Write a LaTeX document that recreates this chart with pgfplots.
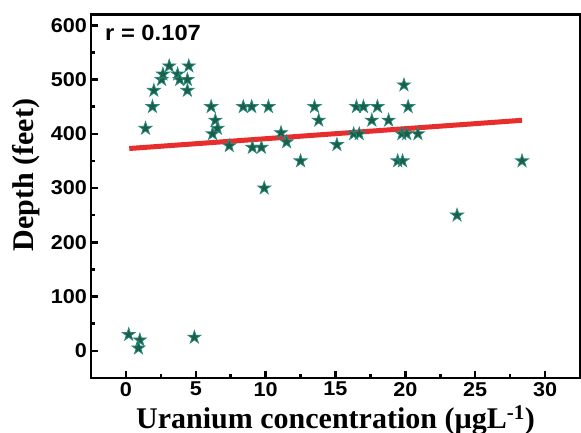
\documentclass[border=0pt]{standalone}
\usepackage{pgfplots}
\pgfplotsset{compat=1.18}
\usepackage{fontspec}
\setmainfont{Liberation Serif}
\newfontfamily\ticksf[FakeStretch=1.08]{Liberation Sans}

\definecolor{starfill}{RGB}{27,94,66}
\definecolor{starline}{RGB}{40,135,128}
\definecolor{fitred}{RGB}{232,45,45}

% filled five-pointed star
\pgfdeclareplotmark{fstar}{%
  \pgfpathmoveto{\pgfqpointpolar{90}{\pgfplotmarksize}}%
  \pgfpathlineto{\pgfqpointpolar{126}{0.382\pgfplotmarksize}}%
  \pgfpathlineto{\pgfqpointpolar{162}{\pgfplotmarksize}}%
  \pgfpathlineto{\pgfqpointpolar{198}{0.382\pgfplotmarksize}}%
  \pgfpathlineto{\pgfqpointpolar{234}{\pgfplotmarksize}}%
  \pgfpathlineto{\pgfqpointpolar{270}{0.382\pgfplotmarksize}}%
  \pgfpathlineto{\pgfqpointpolar{306}{\pgfplotmarksize}}%
  \pgfpathlineto{\pgfqpointpolar{342}{0.382\pgfplotmarksize}}%
  \pgfpathlineto{\pgfqpointpolar{18}{\pgfplotmarksize}}%
  \pgfpathlineto{\pgfqpointpolar{54}{0.382\pgfplotmarksize}}%
  \pgfpathclose
  \pgfusepathqfillstroke
}

\pgfplotstableread{
x y
0.2 30
1.0 20
0.9 5
4.9 25
1.4 410
1.9 450
2.0 480
2.55 500
2.65 510
3.1 525
3.7 510
3.85 500
4.4 500
4.5 525
4.4 480
6.1 450
6.4 425
6.55 410
6.2 400
7.4 378
8.4 450
9.0 450
9.05 375
9.7 375
9.9 300
10.2 450
11.1 402
11.5 385
12.5 350
13.5 450
13.8 425
15.1 380
16.3 400
16.5 450
16.7 400
17.0 450
17.6 425
18.0 450
18.8 425
19.45 350
19.8 350
19.9 490
19.75 400
20.2 450
20.1 400
20.9 400
23.7 250
28.35 350
}\uranium

\begin{document}
\begin{tikzpicture}
\useasboundingbox (-91bp,-55bp) rectangle (490bp,378bp);
\begin{axis}[
  at={(0,0)}, anchor=south west,
  scale only axis, width=489bp, height=363.5bp,
  xmin=-2.5, xmax=32.5, ymin=-50, ymax=620,
  xtick={0,5,...,30}, ytick={0,100,...,600},
  minor x tick num=1, minor y tick num=1,
  tick align=inside, tick pos=left,
  major tick length=7bp, minor tick length=4bp,
  axis line style={line width=2.5bp},
  every tick/.style={black, line width=2.5bp},
  /pgf/number format/assume math mode=true,
  tick label style={font=\ticksf\bfseries\fontsize{20bp}{24bp}\selectfont},
  xticklabel style={inner sep=4bp},
  yticklabel style={inner sep=4bp},
  xlabel={Uranium concentration (µgL\textsuperscript{-1})},
  ylabel={Depth (feet)},
  label style={font=\bfseries\fontsize{30bp}{34bp}\selectfont, inner sep=0pt},
  xlabel style={at={(axis description cs:0.5,-0.1376)}, anchor=base},
  ylabel style={at={(axis description cs:-0.1166,0.558)}, anchor=base},
]
\addplot[fitred, line width=5bp] coordinates {(0.24,373) (28.35,425)};
\addplot[only marks, mark=fstar, mark size=6.8bp,
  mark options={fill=starfill, draw=starline, line width=0.8bp}]
  table[x=x, y=y] {\uranium};
\node[anchor=base west, inner sep=0pt,
  font=\ticksf\bfseries\fontsize{22bp}{26bp}\selectfont]
  at (axis description cs:0.0286,0.928) {r = 0.107};
\end{axis}
\end{tikzpicture}
\end{document}
